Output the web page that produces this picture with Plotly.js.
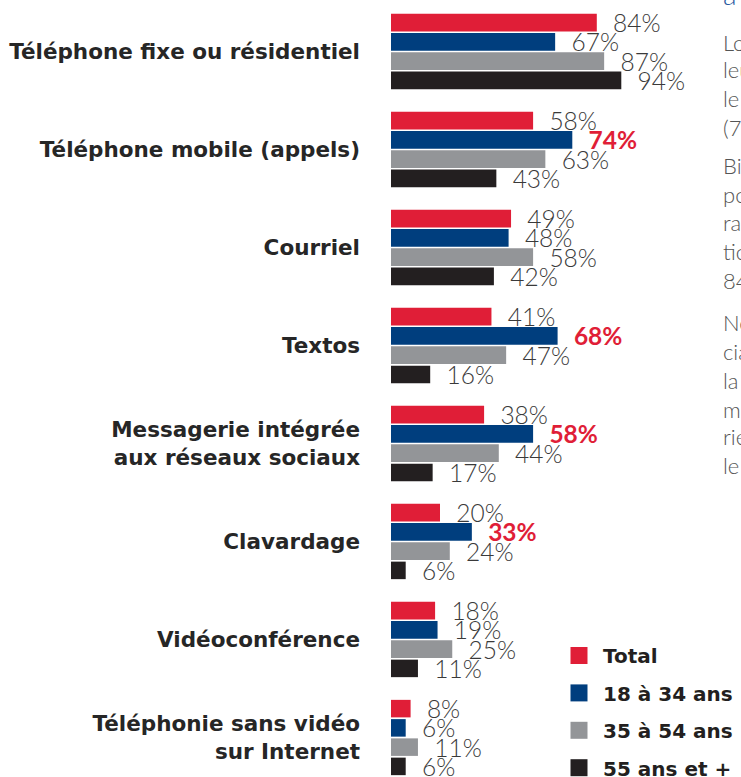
<!DOCTYPE html>
<html>
<head>
<meta charset="utf-8">
<script src="https://cdn.plot.ly/plotly-3.0.1.min.js"></script>
<style>html,body{margin:0;padding:0;background:#fff;}#chart{width:741px;height:777px;}</style>
</head>
<body>
<div id="chart"></div>
<script>
const categories = [
  "Téléphone fixe ou résidentiel",
  "Téléphone mobile (appels)",
  "Courriel",
  "Textos",
  "Messagerie intégrée<br>aux réseaux sociaux",
  "Clavardage",
  "Vidéoconférence",
  "Téléphonie sans vidéo<br>sur Internet"
];
const seriesNames = ["Total", "18 à 34 ans", "35 à 54 ans", "55 ans et +"];
const total     = [84, 58, 49, 41, 38, 20, 18, 8];
const age18_34  = [67, 74, 48, 68, 58, 33, 19, 6];
const age35_54  = [87, 63, 58, 47, 44, 24, 25, 11];
const age55plus = [94, 43, 42, 16, 17, 6, 11, 6];
const highlighted18_34 = [false, true, false, true, true, true, false, false];

const colors = ["#e01e37", "#003e7e", "#939598", "#231f20"];
const values = [total, age18_34, age35_54, age55plus];
const highlights = [null, highlighted18_34, null, null];

const pad = "\u00A0\u00A0";

const traces = values.map((vals, i) => {
  const hl = highlights[i] || vals.map(() => false);
  return {
    type: "bar",
    orientation: "h",
    name: seriesNames[i],
    legendgroup: "g" + i,
    x: vals,
    y: categories,
    marker: {color: colors[i], line: {width: 0}},
    text: vals.map((v, j) => hl[j] ? pad + "<b>" + v + "%</b>" : pad + v + "%"),
    textposition: "outside",
    constraintext: "none",
    cliponaxis: false,
    textfont: {
      family: "Lato",
      size: 24.5,
      weight: 300,
      color: hl.map(h => h ? "#e01e37" : "#3a3a3a")
    },
    hoverinfo: "skip"
  };
});

const sideLines = [
  ["Lo", 42], ["leu", 70], ["le", 98], ["(7", 127],
  ["Bi", 165], ["po", 194], ["ra", 222], ["tio", 251], ["84", 280],
  ["Ne", 322], ["cia", 351], ["la", 380], ["m", 409], ["rie", 437], ["le", 466]
];
const H = 777;
const annotations = sideLines.map(([t, py]) => ({
  text: t, xref: "paper", yref: "paper",
  x: (721 - 391) / 245, y: 1 - py / H,
  xanchor: "left", yanchor: "middle", showarrow: false,
  font: {family: "Lato", size: 22, weight: 300, color: "#555555"}
}));
annotations.push({
  text: "a", xref: "paper", yref: "paper",
  x: (721 - 391) / 245, y: 1 + 6 / H,
  xanchor: "left", yanchor: "middle", showarrow: false,
  font: {family: "Lato", size: 28, weight: 300, color: "#2b5aa0"}
});

const layout = {
  width: 741, height: 777,
  margin: {l: 391, r: 105, t: 0, b: 0, pad: 0, autoexpand: false},
  paper_bgcolor: "#ffffff", plot_bgcolor: "#ffffff",
  barmode: "group",
  bargap: 0.214,
  bargroupgap: 0.09,
  xaxis: {range: [0, 100], visible: false, fixedrange: true},
  yaxis: {
    type: "category",
    categoryarray: categories,
    range: [7.403, -0.5255],
    automargin: false,
    showgrid: false, zeroline: false, showline: false,
    ticks: "", ticklabelstandoff: 30,
    tickfont: {family: "DejaVu Sans", size: 21.5, weight: "bold", color: "#262626"},
    fixedrange: true
  },
  showlegend: true,
  legend: {
    x: (563 - 391) / 245, y: 1 - 636 / H,
    xanchor: "left", yanchor: "top",
    font: {family: "DejaVu Sans", size: 20, weight: "bold", color: "#231f20"},
    tracegroupgap: 8.4,
    bgcolor: "rgba(0,0,0,0)",
    itemclick: false, itemdoubleclick: false
  },
  annotations: annotations
};

Plotly.newPlot("chart", traces, layout, {displayModeBar: false, staticPlot: true}).then(gd => {
  gd.querySelectorAll(".legendpoints path").forEach(p => {
    p.removeAttribute("transform");
    p.setAttribute("d", "M24.5,8.5H7.5V-8.5H24.5Z");
  });
});
</script>
</body>
</html>
